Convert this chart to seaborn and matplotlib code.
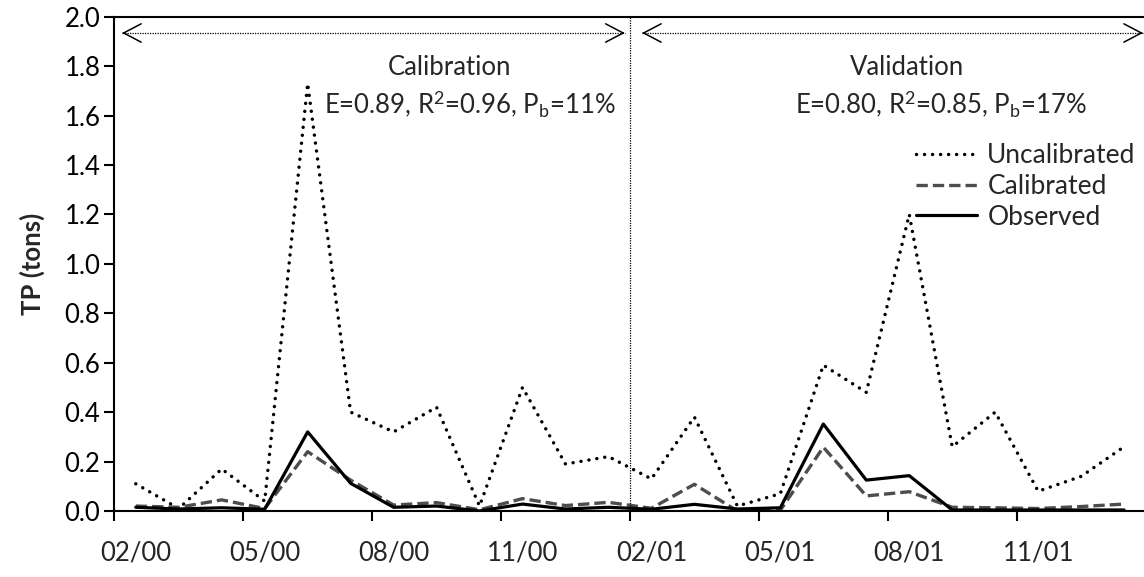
import numpy as np
import pandas as pd
import matplotlib
matplotlib.use("Agg")
import matplotlib.pyplot as plt
import seaborn as sns
from matplotlib.lines import Line2D

# ---- data ----
months = ["02/00", "03/00", "04/00", "05/00", "06/00", "07/00", "08/00", "09/00",
          "10/00", "11/00", "12/00", "01/01", "02/01", "03/01", "04/01", "05/01",
          "06/01", "07/01", "08/01", "09/01", "10/01", "11/01", "12/01", "01/02"]
uncalibrated = [0.11, 0.01, 0.17, 0.04, 1.73, 0.40, 0.32, 0.42, 0.02, 0.50, 0.19, 0.22,
                0.13, 0.38, 0.02, 0.07, 0.59, 0.48, 1.20, 0.26, 0.40, 0.08, 0.14, 0.26]
calibrated = [0.02, 0.015, 0.045, 0.01, 0.24, 0.125, 0.024, 0.034, 0.005, 0.05, 0.022, 0.035,
              0.011, 0.108, 0.0, 0.003, 0.258, 0.061, 0.078, 0.015, 0.013, 0.01, 0.018, 0.028]
observed = [0.015, 0.008, 0.013, 0.007, 0.32, 0.112, 0.015, 0.02, 0.0, 0.028, 0.008, 0.015,
            0.007, 0.027, 0.008, 0.013, 0.352, 0.125, 0.143, 0.004, 0.004, 0.004, 0.004, 0.004]
tick_labels = ["02/00", "05/00", "08/00", "11/00", "02/01", "05/01", "08/01", "11/01"]
series_names = ["Uncalibrated", "Calibrated", "Observed"]
calib_text = ("Calibration", r"E=0.89, R$^{\mathrm{2}}$=0.96, P$_{\mathrm{b}}$=11%")
valid_text = ("Validation", r"E=0.80, R$^{\mathrm{2}}$=0.85, P$_{\mathrm{b}}$=17%")

sns.set_theme(style="white")
FONT = "Lato"
plt.rcParams["font.family"] = [FONT, "DejaVu Sans"]
plt.rcParams["mathtext.fontset"] = "custom"
plt.rcParams["mathtext.rm"] = FONT
plt.rcParams["mathtext.it"] = FONT + ":italic"
plt.rcParams["mathtext.bf"] = FONT + ":bold"

FS = 18.5
idx = np.arange(len(months))
df = pd.DataFrame({"idx": idx, "Uncalibrated": uncalibrated,
                   "Calibrated": calibrated, "Observed": observed})

fig = plt.figure(figsize=(11.44, 5.77), dpi=100)
ax = fig.add_axes([0.0999, 0.1144, 0.9015, 0.8567])

styles = {
    "Uncalibrated": dict(color="black", lw=2.5, linestyle=(0, (0.01, 2.3)),
                         dash_capstyle="round"),
    "Calibrated": dict(color="#4d4d4d", lw=2.4, linestyle=(0, (3.4, 1.5))),
    "Observed": dict(color="black", lw=2.3, linestyle="-"),
}
for name in series_names:
    sns.lineplot(data=df, x="idx", y=name, ax=ax, **styles[name])

ax.set_xlim(-0.5, len(months) - 0.5)
ax.set_ylim(0, 2.0)

# y axis
ax.set_yticks(np.arange(0, 2.01, 0.2))
ax.set_yticklabels([f"{v:.1f}" for v in np.arange(0, 2.01, 0.2)], fontsize=FS)
ax.tick_params(axis="y", direction="out", length=7, width=1.5, pad=3, left=True, color="black")
ax.set_ylabel("TP (tons)", fontsize=FS, fontweight="bold", labelpad=14)

# x axis: ticks between categories, labels every third month
ax.set_xticks(np.arange(-0.5, len(months) - 1, 3))
ax.set_xticklabels([""] * len(ax.get_xticks()))
ax.set_xticks(np.arange(0, len(months), 3), minor=True)
ax.set_xticklabels(tick_labels, minor=True, fontsize=FS)
ax.tick_params(axis="x", which="major", direction="out", length=7, width=1.5, bottom=True, color="black")
ax.tick_params(axis="x", which="minor", length=0, pad=21)
ax.set_xlabel("")

for s in ["left", "bottom", "top"]:
    ax.spines[s].set_visible(True)
    ax.spines[s].set_color("black")
    ax.spines[s].set_linewidth(1.5)
ax.spines["right"].set_visible(False)
ax.tick_params(colors="black")

# period separator
split = 11.5
ax.axvline(split, color="black", lw=0.9, linestyle=(0, (1, 1)))

def period_arrow(x0, x1, y):
    ax.plot([x0, x1], [y, y], color="black", lw=0.9, linestyle=(0, (1, 1)))
    for xe, xs in ((x0, x0 + 0.05), (x1, x1 - 0.05)):
        ax.annotate("", xy=(xe, y), xytext=(xs, y),
                    arrowprops=dict(arrowstyle="->,head_length=1.05,head_width=0.55",
                                    lw=1.1, color="black", shrinkA=0, shrinkB=0))

period_arrow(-0.32, split - 0.12, 1.934)
period_arrow(split + 0.28, len(months) - 0.56, 1.934)

ax.text(7.3, 1.796, calib_text[0], ha="center", va="center", fontsize=FS)
ax.text(7.78, 1.65, calib_text[1], ha="center", va="center", fontsize=FS)
ax.text(17.94, 1.796, valid_text[0], ha="center", va="center", fontsize=FS)
ax.text(18.74, 1.65, valid_text[1], ha="center", va="center", fontsize=FS)

handles = [Line2D([], [], **styles[n]) for n in series_names]
ax.legend(handles, series_names, loc="upper left", bbox_to_anchor=(0.8007, 0.752),
          bbox_transform=fig.transFigure, frameon=False, fontsize=FS + 0.5,
          handlelength=2.3, handletextpad=0.4, labelspacing=0.22, borderpad=0,
          borderaxespad=0)

fig.savefig("out.png", dpi=100)
